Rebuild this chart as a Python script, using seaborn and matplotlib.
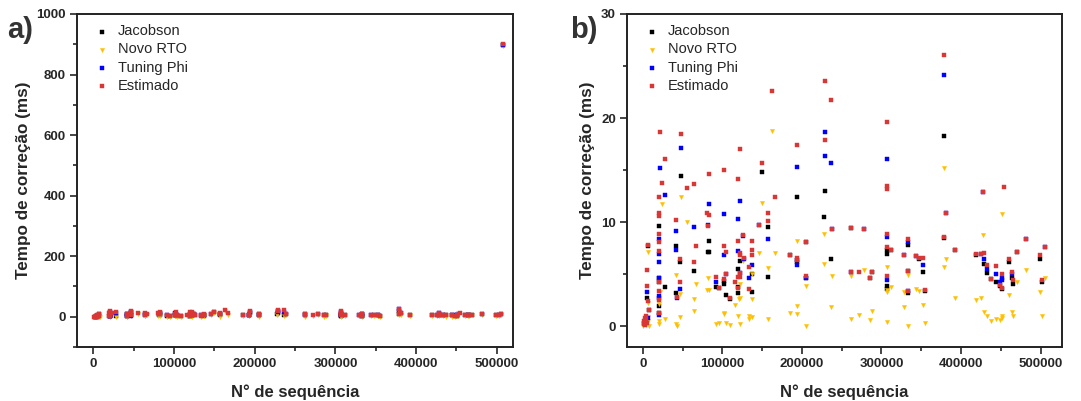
import numpy as np
import pandas as pd
import matplotlib
matplotlib.use("Agg")
import matplotlib.pyplot as plt
from matplotlib.ticker import MultipleLocator
import seaborn as sns

series_names = ["Jacobson", "Novo RTO", "Tuning Phi", "Estimado"]

jac_x = [47400, 149800, 194200, 228600, 379200, 5000, 7000, 7500, 20500, 20500, 20500, 20500, 20500,
         28100, 41500, 41500, 47000, 64200, 82700, 81500, 82700, 91900, 95200, 101900, 101900, 104400,
         109100, 120000, 120000, 120000, 122500, 137000, 137000, 157700, 157700, 185000, 193400, 205100,
         205100, 228200, 236200, 262200, 285700, 288200, 307100, 307100, 307100, 307100, 312500, 333100,
         333100, 333100, 347800, 352400, 355300, 379200, 392700, 419100, 428700, 432900, 437100, 444300,
         448500, 451000, 460200, 464400, 465600, 469800, 498800, 502100, 2000, 3000, 508000]
jac_y = [14.4, 14.8, 12.4, 13.0, 18.3, 2.7, 7.7, 1.6, 9.6, 4.6, 4.2, 1.9, 1.3,
         3.8, 7.7, 3.2, 6.2, 5.3, 8.2, 7.1, 7.1, 3.8, 3.7, 4.3, 4.1, 3.0,
         2.6, 3.8, 3.2, 5.5, 6.3, 5.0, 3.3, 9.5, 4.7, 6.8, 6.2, 8.1,
         4.6, 10.5, 6.5, 9.4, 4.6, 5.2, 7.3, 6.9, 3.9, 3.6, 7.3, 7.8,
         5.3, 3.2, 6.5, 5.2, 3.4, 8.5, 7.3, 6.8, 6.0, 5.1, 4.5, 4.2,
         3.9, 3.6, 6.2, 4.6, 4.1, 7.1, 6.5, 4.2, 0.3, 0.5, 898]

rto_x = [500, 1500, 2500, 3500, 4500, 5500, 6500, 6000, 7000, 8000, 7000,
         20500, 20500, 20500, 20500, 21500, 23900, 28100, 41500, 41500, 42500, 47000, 47000, 47400,
         55800, 64200, 64200, 67100, 81500, 80500, 82700, 91900, 95200, 101900, 102500, 104400,
         109100, 116200, 120000, 121000, 122500, 122500, 122500, 125500, 133000, 134000, 137000,
         137000, 137000, 146400, 149800, 157700, 157700, 162800, 166500, 185000, 193400, 193400,
         193400, 205100, 205100, 228200, 228200, 236200, 238300, 262200, 262200, 272300, 278100,
         285700, 288200, 307100, 307100, 307100, 307100, 312500, 328900, 328900, 333100, 333100,
         344000, 347800, 352400, 355300, 379200, 379200, 381700, 392700, 419100, 425400, 427900,
         428700, 432900, 437100, 444300, 448500, 451000, 451800, 452000, 460200, 464400, 465600,
         469800, 481200, 498800, 502100, 505100, 508000]
rto_y = [0.0, 0.2, 0.4, 0.1, 0.6, 0.3, 0.9, 2.2, 7.1, 0.0, 0.5,
         2.1, 1.2, 0.5, 0.2, 3.3, 11.7, 0.7, 4.9, 0.2, 0.0, 3.1, 0.9, 12.4,
         10.0, 2.6, 1.5, 4.1, 4.6, 3.5, 3.5, 0.2, 0.3, 1.3, 1.2, 0.3,
         0.1, 2.0, 1.0, 2.6, 4.1, 2.7, 0.2, 6.3, 1.0, 0.7, 5.0,
         2.6, 0.9, 7.0, 11.8, 5.6, 0.7, 18.8, 7.0, 1.3, 8.2, 1.9,
         1.2, 3.9, 0.0, 8.9, 6.0, 1.8, 4.8, 4.8, 0.7, 1.1, 5.4,
         0.6, 1.5, 5.7, 3.5, 3.3, 0.4, 3.8, 3.3, 1.8, 4.9, 0.0,
         3.6, 3.4, 2.0, 0.3, 15.2, 5.7, 6.5, 2.7, 2.5, 2.7, 8.8,
         1.4, 1.0, 0.5, 0.7, 0.6, 1.0, 10.8, 0.8, 3.0, 1.4, 1.0,
         4.2, 5.4, 3.3, 1.0, 4.6, 893]

phi_x = [21000, 28100, 47400, 194200, 228600, 228600, 236200, 307100, 379200, 427900,
         5000, 20500, 20500, 20500, 20500, 20500, 20500, 20500, 41500, 41500, 42500, 47000, 64200,
         82700, 81500, 91900, 101900, 102500, 104400, 120000, 120000, 122500, 122500, 125500, 126500,
         133000, 137000, 146400, 157700, 193400, 193400, 205100, 238300, 262200, 278100, 307100,
         307100, 328900, 333100, 333100, 344000, 352400, 381700, 425400, 428700, 432900, 444300,
         449500, 451000, 451000, 464400, 481200, 505100, 3000, 6000, 508000]
phi_y = [15.2, 12.6, 17.1, 15.3, 18.7, 16.4, 15.7, 16.1, 24.1, 12.9,
         3.3, 8.4, 6.9, 6.2, 4.6, 2.9, 2.7, 1.1, 9.1, 7.3, 2.7, 3.6, 9.5,
         11.7, 9.7, 4.2, 10.8, 6.8, 5.0, 10.3, 7.2, 12.0, 5.1, 8.7, 6.5,
         4.6, 5.9, 9.7, 8.4, 6.4, 5.9, 4.6, 9.3, 5.2, 9.3, 8.6,
         4.4, 6.8, 8.1, 3.4, 6.7, 5.9, 10.9, 6.9, 6.5, 5.5, 5.0,
         4.2, 4.6, 4.4, 5.0, 8.4, 7.6, 0.5, 0.8, 898]

est_x = [21000, 28100, 23500, 20500, 47400, 55800, 64200, 83100, 102000, 119600, 122500, 149800,
         166500, 162800, 194200, 228600, 236200, 228600, 307100, 307100, 307100, 379200, 427900, 453900,
         5000, 5000, 6000, 7000, 7500, 1000, 2000, 3000, 4000, 5000, 2500, 4500,
         20000, 20500, 20500, 20500, 20500, 20500, 20500, 19800, 19800, 41500, 42500, 47000, 47000,
         64200, 67100, 80500, 82700, 81500, 91900, 95200, 101900, 101900, 104400, 104400, 109100,
         116200, 120000, 120000, 120000, 122500, 122500, 122500, 121500, 125500, 126500, 133000,
         133000, 137000, 137000, 137000, 146400, 157700, 157700, 185000, 193400, 193400, 205100,
         205100, 238300, 262200, 262200, 272300, 278100, 285700, 288200, 307100, 307100, 307100,
         312500, 328900, 333100, 333100, 333100, 344000, 347800, 352400, 355300, 379200, 381700,
         392700, 419100, 425400, 428700, 432900, 437100, 444300, 448500, 451000, 451000, 460200,
         464400, 465600, 469800, 481200, 498800, 502100, 505100, 508000]
est_y = [18.7, 16.1, 13.8, 12.4, 18.5, 13.3, 13.7, 14.6, 15.0, 14.1, 17.0, 15.7,
         12.4, 22.6, 17.4, 23.6, 21.7, 17.9, 19.6, 13.5, 13.2, 26.1, 12.9, 13.4,
         5.4, 3.9, 2.4, 7.8, 1.6, 0.2, 0.5, 0.8, 1.0, 0.3, 0.1, 0.6,
         10.9, 10.6, 8.9, 8.1, 7.2, 4.2, 3.4, 2.5, 1.3, 10.2, 2.8, 6.5, 4.2,
         6.2, 7.7, 10.9, 10.7, 9.6, 4.7, 3.7, 7.7, 4.5, 7.1, 5.0, 2.7,
         4.2, 8.2, 3.7, 4.7, 7.0, 6.8, 5.1, 4.7, 8.8, 6.6, 5.7,
         3.6, 8.2, 7.3, 6.8, 9.7, 10.9, 10.1, 6.8, 6.6, 6.4, 8.1,
         4.8, 9.3, 9.4, 5.2, 5.2, 9.3, 4.6, 5.2, 8.9, 7.6, 4.8,
         7.3, 6.8, 8.4, 5.3, 3.4, 6.7, 6.6, 6.6, 3.5, 8.6, 10.9,
         7.3, 6.9, 6.9, 7.0, 5.9, 4.5, 5.8, 4.0, 5.0, 3.7, 6.5,
         5.2, 4.4, 7.1, 8.4, 6.8, 4.4, 7.6, 900]

x_ticks = [0, 100000, 200000, 300000, 400000, 500000]
y_ticks_a = [0, 200, 400, 600, 800, 1000]
y_ticks_b = [0, 10, 20, 30]

colors = ["#000000", "#ffbf00", "#0000ff", "#d93636"]
markers = ["s", "v", "s", "s"]

frames = []
for name, xs, ys in zip(series_names, [jac_x, rto_x, phi_x, est_x], [jac_y, rto_y, phi_y, est_y]):
    frames.append(pd.DataFrame({"x": xs, "y": ys, "serie": name}))
df = pd.concat(frames, ignore_index=True)

sns.set_style("ticks")
plt.rcParams["font.family"] = ["Liberation Sans", "DejaVu Sans"]

fig = plt.figure(figsize=(10.81, 4.01), dpi=100)
ax_a = fig.add_axes([77 / 1081, 54 / 401, 436 / 1081, 333 / 401])
ax_b = fig.add_axes([627 / 1081, 54 / 401, 435 / 1081, 333 / 401])

for ax, ylim, yt, minor_y, xlim, lab, labx in [
    (ax_a, (-100, 1000), y_ticks_a, 100, (-20000, 520000), "a)", 0.007),
    (ax_b, (-2, 30), y_ticks_b, 5, (-20000, 527000), "b)", 0.527),
]:
    for name, c, m in zip(series_names, colors, markers):
        sub = df[df["serie"] == name]
        sns.scatterplot(data=sub, x="x", y="y", ax=ax, color=c, marker=m,
                        s=5 if m == "s" else 9, linewidth=0.3,
                        edgecolor=c, label=name, zorder=3)
    ax.set_xlim(*xlim)
    ax.set_ylim(*ylim)
    ax.set_xticks(x_ticks)
    ax.set_xticklabels([str(v) for v in x_ticks])
    ax.set_yticks(yt)
    ax.set_yticklabels([str(v) for v in yt])
    ax.xaxis.set_minor_locator(MultipleLocator(50000))
    ax.yaxis.set_minor_locator(MultipleLocator(minor_y))
    ax.tick_params(axis="both", which="major", direction="out", length=5, width=1.2,
                   labelsize=9.5, pad=3, top=False, right=False)
    ax.tick_params(axis="both", which="minor", direction="out", length=3, width=1.2,
                   top=False, right=False)
    for t in ax.get_xticklabels() + ax.get_yticklabels():
        t.set_fontweight("bold")
    for sp in ax.spines.values():
        sp.set_linewidth(1.4)
        sp.set_color("#222222")
    ax.set_xlabel("N° de sequência", fontsize=12, fontweight="bold", labelpad=10)
    ax.set_ylabel("Tempo de correção (ms)", fontsize=12.3, fontweight="bold", labelpad=4)
    leg = ax.legend(loc="upper left", frameon=False, fontsize=10.5, handletextpad=0.6,
                    handlelength=1.0, labelspacing=0.28, borderaxespad=0.2,
                    bbox_to_anchor=(0.02, 0.995))
    fig.text(labx, 0.925, lab, fontsize=21, fontweight="bold", color="#333333", ha="left", va="center")

fig.savefig("out.png", dpi=100)
